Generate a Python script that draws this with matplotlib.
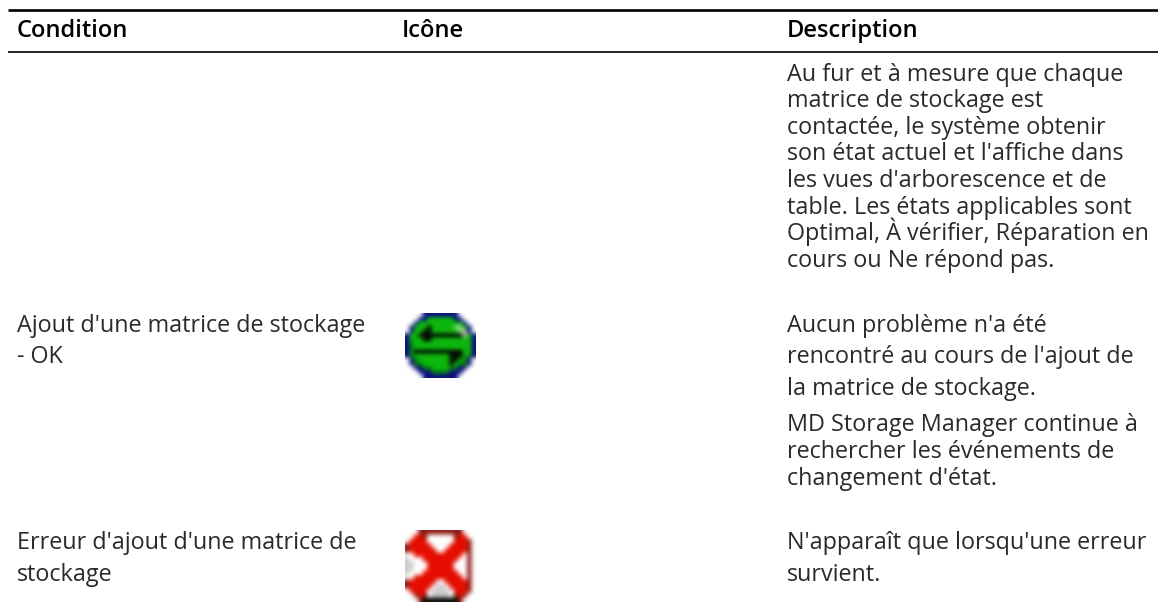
#!/usr/bin/env python3

import matplotlib
matplotlib.use("Agg")
import matplotlib.pyplot as plt
import numpy as np

FONT = "Open Sans"
WIDTH = 1158
HEIGHT = 609

headers = ["Condition", "Icône", "Description"]
condition_lines = [
    "Ajout d'une matrice de stockage",
    "- OK",
    "Erreur d'ajout d'une matrice de",
    "stockage",
]
description_lines = [
    "Au fur et à mesure que chaque",
    "matrice de stockage est",
    "contactée, le système obtenir",
    "son état actuel et l'affiche dans",
    "les vues d'arborescence et de",
    "table. Les états applicables sont",
    "Optimal, À vérifier, Réparation en",
    "cours ou Ne répond pas.",
    "Aucun problème n'a été",
    "rencontré au cours de l'ajout de",
    "la matrice de stockage.",
    "MD Storage Manager continue à",
    "rechercher les événements de",
    "changement d'état.",
    "N'apparaît que lorsqu'une erreur",
    "survient.",
]
# text baselines, in pixels from the top
condition_y = [332, 363, 549, 581]
description_y = [81, 107, 134, 160, 187, 214, 240, 267,
                 332, 363, 395, 431, 458, 485, 549, 581]

green_icon = [
    "....NNNNNNNN....",
    "...NNGGGGGGNN...",
    "..NGGGGGGGGGGN..",
    ".NGGGKGGGGGLLGN.",
    ".NGGKKGGGGGGLWN.",
    "NGGKKKKKKKKKKWGN",
    "NGGGKKGGGGGGGGGN",
    "NDGGGGGGGGGGGGGN",
    "NDGGGGGGGGGGGGGN",
    "NDKKKKKKKKKKKGGN",
    "NDGGGGGGGGKKKGDN",
    ".NDGGGGGGGKKGDN.",
    ".NDDGGGGGGKGDDN.",
    "..NNDDGGGGDDNN..",
    "...NNNDDDDNNN...",
    "....NNNNNNNN....",
]
red_icon = [
    "...BBBBBBBBBB...",
    "..RRB......BRR..",
    ".RRRR......RRRB.",
    "BRRRRR....RRRRB.",
    "BRRRRRR..RRRRRB.",
    "..RRRRRRRRRRR.B.",
    "S...RRRRRRRR..B.",
    "SS...RRRRRR...B.",
    "SS...RRRRRR...B.",
    "S...RRRRRRRR..B.",
    "..RRRRRRRRRRR.B.",
    "BRRRRRR..RRRRRB.",
    "BRRRRR.SS.RRRRB.",
    ".RRRR.SSSS.RRRB.",
    "..BRB.SSSS.BRB..",
    "...BKKKKKKKKB...",
]
icon_colors = {
    ".": (1, 1, 1),
    "N": (0.05, 0.05, 0.50),
    "G": (0.05, 0.72, 0.05),
    "D": (0.02, 0.52, 0.05),
    "L": (0.55, 0.85, 0.50),
    "W": (0.75, 0.75, 0.70),
    "K": (0.02, 0.05, 0.02),
    "R": (0.90, 0.05, 0.0),
    "B": (0.55, 0.10, 0.08),
    "S": (0.80, 0.80, 0.80),
}


def icon_image(rows):
    return np.array([[icon_colors[c] for c in row] for row in rows])


def main():
    fig = plt.figure(figsize=(WIDTH / 100, HEIGHT / 100), dpi=100)
    ax = fig.add_axes([0, 0, 1, 1])
    ax.set_xlim(0, WIDTH)
    ax.set_ylim(HEIGHT, 0)
    ax.axis("off")

    ax.plot([8, 1158], [10, 10], color="black", lw=1.9, solid_capstyle="butt")
    ax.plot([8, 1158], [52, 52], color="black", lw=1.2, solid_capstyle="butt")

    for x, label in zip([17, 402, 787], headers):
        ax.text(x, 37, label, family=FONT, fontsize=17.1, weight="semibold",
                va="baseline", ha="left", color="black")

    for y, line in zip(condition_y, condition_lines):
        ax.text(17, y, line, family=FONT, fontsize=16.85, va="baseline",
                ha="left", color="#2a2a2a")
    for y, line in zip(description_y, description_lines):
        ax.text(787, y, line, family=FONT, fontsize=16.85, va="baseline",
                ha="left", color="#2a2a2a")

    ax.imshow(icon_image(green_icon), extent=(405, 476, 378, 313),
              interpolation="bicubic", aspect="auto", zorder=2)
    ax.imshow(icon_image(red_icon), extent=(405, 476, 602, 530),
              interpolation="bicubic", aspect="auto", zorder=2)
    ax.set_xlim(0, WIDTH)
    ax.set_ylim(HEIGHT, 0)

    fig.savefig("out.png", dpi=100)


if __name__ == "__main__":
    main()
